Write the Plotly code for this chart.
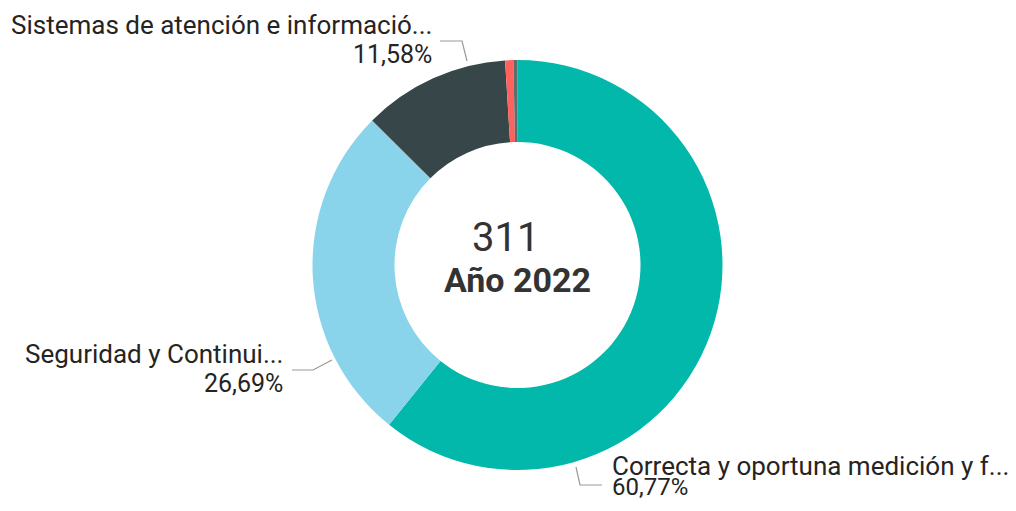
import plotly.graph_objects as go

# The page body has an 8px default margin, so the figure is drawn at (8, 8)
OFF = 8
W, H = 1016 - 2 * OFF, 511 - 2 * OFF

categories = [
    "Correcta y oportuna medición y facturación",
    "Seguridad y Continuidad del servicio",
    "Sistemas de atención e información",
    "Otros trámites",
    "Otros",
]
short_labels = [
    "Correcta y oportuna medición y f...",
    "Seguridad y Continui...",
    "Sistemas de atención e informació...",
]
values = [189, 83, 36, 2, 1]
percent_labels = ["60,77%", "26,69%", "11,58%"]
total_label = "311"
year_label = "Año 2022"
colors = ["#01B8AA", "#8AD4EB", "#374649", "#FD625E", "#5F6B6D"]


def px(x):
    return (x - OFF) / W


def py(y):
    return 1 - (y - OFF) / H


fig = go.Figure(
    go.Pie(
        labels=categories,
        values=values,
        hole=0.6,
        sort=False,
        direction="clockwise",
        rotation=0,
        marker=dict(colors=colors, line=dict(width=0)),
        textinfo="none",
        hoverinfo="label+percent",
        domain=dict(x=[px(312.5), px(722.5)], y=[py(470), py(60)]),
        showlegend=False,
    )
)

label_font = dict(family="Roboto", size=26, color="#252423")
pct_font = dict(family="Roboto", size=25, color="#252423")
annotations = [
    # Sistemas
    dict(x=px(433), y=py(25), text=short_labels[2], xanchor="right", yanchor="middle", font=label_font),
    dict(x=px(433), y=py(54), text=percent_labels[2], xanchor="right", yanchor="middle", font=pct_font),
    # Seguridad
    dict(x=px(284), y=py(354), text=short_labels[1], xanchor="right", yanchor="middle", font=label_font),
    dict(x=px(284), y=py(383), text=percent_labels[1], xanchor="right", yanchor="middle", font=pct_font),
    # Correcta
    dict(x=px(611), y=py(466), text=short_labels[0], xanchor="left", yanchor="middle", font=label_font),
    dict(x=px(611), y=py(487), text=percent_labels[0], xanchor="left", yanchor="middle",
         font=dict(pct_font, size=24)),
]
for a in annotations:
    a.update(xref="paper", yref="paper", showarrow=False, borderpad=0)

annotations += [
    dict(x=px(505), y=py(237), text=total_label, xref="paper", yref="paper",
         showarrow=False, xanchor="center", yanchor="middle",
         font=dict(family="Roboto", size=40, color="#333333")),
    dict(x=px(517), y=py(280), text="<b>" + year_label + "</b>", xref="paper", yref="paper",
         showarrow=False, xanchor="center", yanchor="middle",
         font=dict(family="Roboto", size=34, color="#333333")),
]


def leader(points):
    d = "M " + " L ".join(f"{px(x)},{py(y)}" for x, y in points)
    return dict(type="path", xref="paper", yref="paper", path=d,
                line=dict(color="#999999", width=1.2))


shapes = [
    leader([(440, 41), (462, 41), (467, 61)]),
    leader([(292, 370), (313, 370), (332, 360)]),
    leader([(576, 467), (580, 485), (602, 485)]),
]

fig.update_layout(
    width=W,
    height=H,
    margin=dict(l=0, r=0, t=0, b=0),
    paper_bgcolor="white",
    plot_bgcolor="white",
    annotations=annotations,
    shapes=shapes,
)

fig.write_html("out.html")
